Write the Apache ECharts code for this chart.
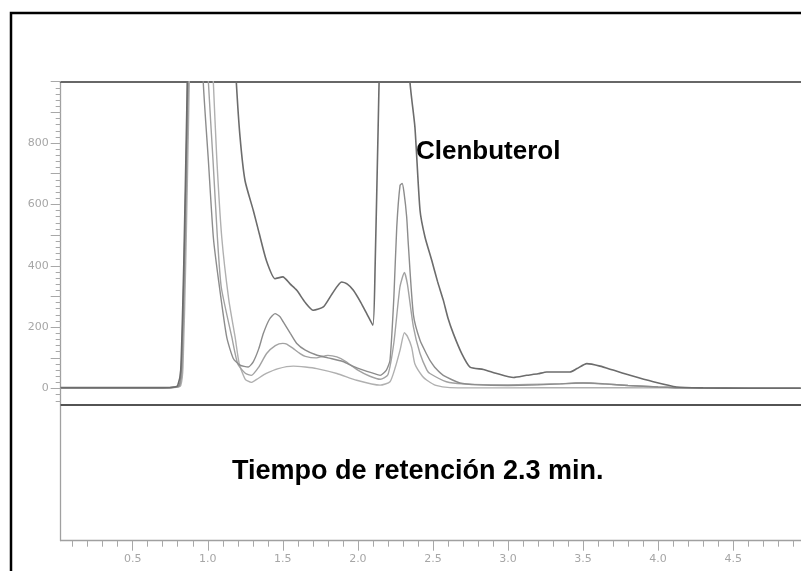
<!DOCTYPE html>
<html>
<head>
<meta charset="utf-8">
<script src="https://cdn.jsdelivr.net/npm/echarts/dist/echarts.min.js"></script>
<style>
html,body{margin:0;padding:0;background:#fff;}
#chart{width:801px;height:571px;}
</style>
</head>
<body>
<div id="chart"></div>
<script>
// ---- Data (retention time in min, detector response) ----
const timeA = [0.02,0.70,0.78,0.80,0.82,0.84,0.86,0.875,0.95,1.10,1.17,1.19,1.215,1.248,1.303,1.343,1.39,1.448,1.50,1.55,1.593,1.65,1.703,1.77,1.83,1.892,1.93,1.97,2.02,2.059,2.10,2.115,2.135,2.15,2.25,2.33,2.347,2.38,2.414,2.447,2.492,2.53,2.569,2.60,2.636,2.692,2.747,2.836,2.925,3.036,3.125,3.20,3.258,3.413,3.46,3.525,3.613,3.70,3.813,3.968,4.124,4.30,4.60,4.95];
const valA  = [3,3,5,10,60,400,900,1300,2000,1800,1200,1000,820,678,581,505,418,358,364,340,320,280,255,266,310,347,340,320,280,244,206,400,850,1150,2000,1300,1000,852,581,494,418,350,288,230,179,114,70,62,49,36,43,48,54,54,65,81,73,60,43,22,5,2,1,1];

const timeB = [0.02,0.70,0.79,0.81,0.825,0.845,0.865,0.88,0.92,0.96,0.97,1.004,1.037,1.07,1.126,1.17,1.215,1.27,1.303,1.34,1.37,1.41,1.448,1.48,1.503,1.55,1.593,1.65,1.72,1.80,1.90,1.97,2.036,2.10,2.148,2.19,2.214,2.24,2.259,2.281,2.295,2.307,2.325,2.336,2.37,2.414,2.46,2.48,2.52,2.569,2.68,2.80,3.00,3.20,3.35,3.45,3.55,3.65,3.80,4.00,4.20,4.95];
const valB  = [2,2,5,10,70,450,950,1300,1800,1300,1000,744,494,360,168,98,76,70,87,130,179,225,244,235,217,180,147,125,110,100,88,72,60,50,43,60,92,300,526,662,668,640,560,470,240,157,110,92,65,43,18,12,10,12,15,18,18,15,10,5,2,1];

const timeC = [0.02,0.70,0.79,0.815,0.83,0.85,0.87,0.885,0.93,0.99,1.004,1.035,1.064,1.09,1.16,1.20,1.25,1.29,1.34,1.392,1.45,1.50,1.526,1.57,1.615,1.65,1.72,1.80,1.86,1.92,2.00,2.08,2.15,2.20,2.24,2.28,2.31,2.33,2.37,2.414,2.46,2.48,2.59,2.70,3.00,3.30,3.50,3.60,3.80,4.00,4.20,4.95];
const valC  = [2,2,5,10,70,450,950,1300,1800,1200,1000,744,494,330,168,80,50,43,70,114,140,147,145,130,114,105,100,108,103,88,60,40,30,45,150,330,378,340,201,114,60,49,22,15,12,15,18,16,10,5,2,1];

const timeD = [0.02,0.70,0.79,0.82,0.835,0.855,0.875,0.89,0.95,1.02,1.037,1.06,1.093,1.14,1.182,1.21,1.25,1.29,1.326,1.39,1.47,1.57,1.65,1.726,1.86,1.992,2.148,2.214,2.25,2.281,2.31,2.33,2.358,2.38,2.43,2.46,2.52,2.614,3.00,3.50,4.00,4.95];
const valD  = [1,1,4,10,70,450,950,1300,1800,1200,1000,750,494,290,168,80,30,20,30,49,65,73,70,65,49,27,11,22,70,125,182,170,135,80,40,27,10,3,2,3,2,1];

// ---- Tick labels ----
const xLabelTicks = [0.5,1.0,1.5,2.0,2.5,3.0,3.5,4.0,4.5];
const xMinorTicks = [0.1,0.2,0.3,0.4,0.6,0.7,0.8,0.9,1.1,1.2,1.3,1.4,1.6,1.7,1.8,1.9,2.1,2.2,2.3,2.4,2.6,2.7,2.8,2.9,3.1,3.2,3.3,3.4,3.6,3.7,3.8,3.9,4.1,4.2,4.3,4.4,4.6,4.7,4.8,4.9];
const yLabelTicks = [0,200,400,600,800];
const yMajorTicks = [0,100,200,300,400,500,600,700,800,900,1000];
const yMinorTicks = [];
for (let v = -40; v <= 1000; v += 20) yMinorTicks.push(v);

const cutoffLevel = -52;
const annotationPeak = 'Clenbuterol';
const annotationRT = 'Tiempo de retención 2.3 min.';

const X_MIN = 0.0203, X_MAX = 4.952, Y_MIN = -496, Y_MAX = 1000;

function pairs(t, v){ return t.map((x,i)=>[x, v[i]]); }

const chart = echarts.init(document.getElementById('chart'), null, {renderer:'canvas'});

const tickGray = '#a8a8a8';
const labelStyle = {color:'#a6a6a6', fontFamily:'DejaVu Sans', fontSize:11};

const option = {
  animation:false,
  backgroundColor:'#ffffff',
  grid:{left:60.7, right:0, top:81.7, bottom:30.3, containLabel:false, outerBoundsMode:'none'},
  xAxis:[
    {type:'value', position:'bottom', min:X_MIN, max:X_MAX,
     axisLine:{show:true, onZero:false, lineStyle:{color:'#a0a0a0', width:1.3}},
     axisTick:{show:true, customValues:xLabelTicks, length:10, lineStyle:{color:tickGray, width:1}},
     axisLabel:Object.assign({show:true, customValues:xLabelTicks, margin:13, formatter:v=>v.toFixed(1)}, labelStyle),
     splitLine:{show:false}},
    {type:'value', position:'bottom', min:X_MIN, max:X_MAX,
     axisLine:{show:false, onZero:false},
     axisTick:{show:true, customValues:xMinorTicks, length:6, lineStyle:{color:tickGray, width:1}},
     axisLabel:{show:false}, splitLine:{show:false}},
    {type:'value', position:'top', min:X_MIN, max:X_MAX,
     axisLine:{show:true, onZero:false, lineStyle:{color:'#676767', width:2}},
     axisTick:{show:false}, axisLabel:{show:false}, splitLine:{show:false}}
  ],
  yAxis:[
    {type:'value', position:'left', offset:0, min:Y_MIN, max:Y_MAX,
     axisLine:{show:true, onZero:false, lineStyle:{color:'#a0a0a0', width:1.3}},
     axisTick:{show:true, customValues:yMajorTicks, length:10, lineStyle:{color:tickGray, width:1}},
     axisLabel:Object.assign({show:true, customValues:yLabelTicks, margin:12}, labelStyle),
     splitLine:{show:false}},
    {type:'value', position:'left', offset:0, min:Y_MIN, max:Y_MAX,
     axisLine:{show:false, onZero:false},
     axisTick:{show:true, customValues:yMinorTicks, length:5, lineStyle:{color:tickGray, width:1}},
     axisLabel:{show:false}, splitLine:{show:false}}
  ],
  series:[
    {type:'line', data:pairs(timeD,valD), showSymbol:false, smooth:0.2, clip:true,
     lineStyle:{color:'#b0b0b0', width:1.4}},
    {type:'line', data:pairs(timeC,valC), showSymbol:false, smooth:0.2, clip:true,
     lineStyle:{color:'#a2a2a2', width:1.4}},
    {type:'line', data:pairs(timeB,valB), showSymbol:false, smooth:0.2, clip:true,
     lineStyle:{color:'#8c8c8c', width:1.4}},
    {type:'line', data:pairs(timeA,valA), showSymbol:false, smooth:0.2, clip:true,
     lineStyle:{color:'#6c6c6c', width:1.6},
     markLine:{silent:true, symbol:'none', label:{show:false},
       lineStyle:{color:'#1a1a1a', width:1.5, type:'solid'},
       data:[{yAxis:cutoffLevel}]}}
  ],
  graphic:[
    {type:'rect', left:8.5, top:10.5, shape:{width:900, height:700},
     style:{fill:'none', stroke:'#000', lineWidth:2.5}, silent:true},
    {type:'text', left:416, top:139, style:{text:annotationPeak, fill:'#000',
      font:'bold 26px "Liberation Sans", Arial, sans-serif'}},
    {type:'text', left:232, top:458, style:{text:annotationRT, fill:'#000',
      font:'bold 27px "Liberation Sans", Arial, sans-serif'}}
  ]
};
chart.setOption(option);
</script>
</body>
</html>
